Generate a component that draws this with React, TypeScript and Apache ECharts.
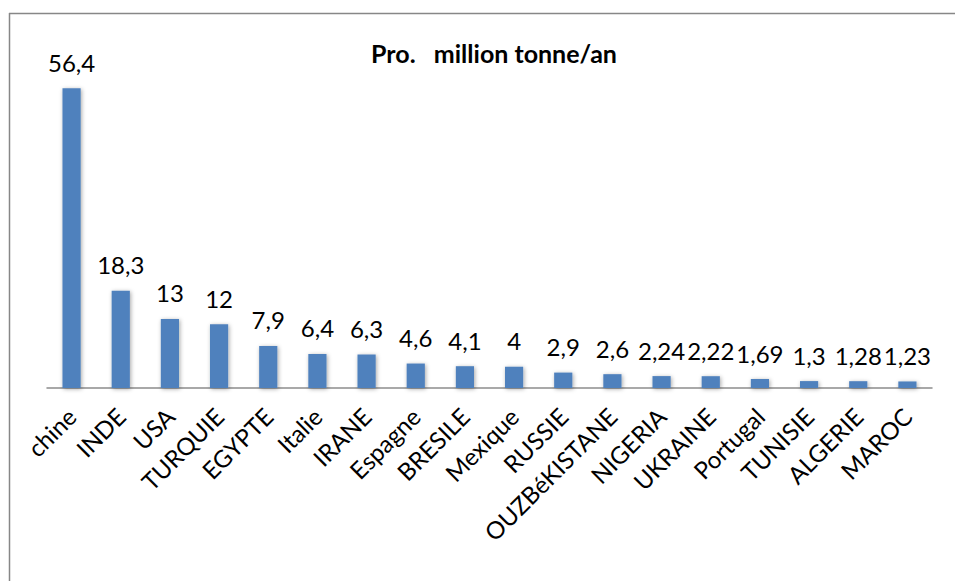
import React, { useEffect, useRef } from "react";
import * as echarts from "echarts";

const countries = [
  "chine", "INDE", "USA", "TURQUIE", "EGYPTE", "Italie", "IRANE", "Espagne", "BRESILE",
  "Mexique", "RUSSIE", "OUZBéKISTANE", "NIGERIA", "UKRAINE", "Portugal", "TUNISIE", "ALGERIE", "MAROC",
];
const production = [56.4, 18.3, 13, 12, 7.9, 6.4, 6.3, 4.6, 4.1, 4, 2.9, 2.6, 2.24, 2.22, 1.69, 1.3, 1.28, 1.23];
// non-breaking spaces keep the wide gap after "Pro." in SVG text
const chartTitle = "Pro.\u00a0\u00a0\u00a0million tonne/an";

const FONT = "Lato, 'Open Sans', sans-serif";

export default function App() {
  const ref = useRef<HTMLDivElement>(null);

  useEffect(() => {
    if (!ref.current) return;
    const chart = echarts.init(ref.current, null, { renderer: "svg" });
    chart.setOption({
      animation: false,
      backgroundColor: "#ffffff",
      title: {
        text: chartTitle,
        left: 489,
        top: 35,
        textAlign: "center",
        textStyle: { fontFamily: FONT, fontSize: 25, fontWeight: "bold", color: "#000" },
      },
      graphic: [
        { type: "line", shape: { x1: 9, y1: 13.5, x2: 955, y2: 13.5 }, style: { stroke: "#878787", lineWidth: 1.5 } },
        { type: "line", shape: { x1: 9.5, y1: 13, x2: 9.5, y2: 581 }, style: { stroke: "#878787", lineWidth: 1.5 } },
      ],
      grid: { left: 47, right: 23, top: 69, bottom: 193 },
      xAxis: {
        type: "category",
        data: countries,
        axisLine: { lineStyle: { color: "#8c8c8c", width: 1.5 } },
        axisTick: { show: false },
        axisLabel: {
          rotate: 45,
          interval: 0,
          margin: 24,
          color: "#000",
          fontFamily: FONT,
          fontSize: 24,
        },
      },
      yAxis: {
        type: "value",
        min: 0,
        max: 60,
        show: false,
        splitLine: { show: false },
      },
      series: [
        {
          type: "bar",
          data: production,
          barWidth: "37%",
          itemStyle: {
            color: "#4F81BD",
            shadowColor: "rgba(0,0,0,0.35)",
            shadowBlur: 4,
            shadowOffsetX: 1,
            shadowOffsetY: 1,
          },
          label: {
            show: true,
            position: "top",
            distance: 14,
            color: "#000",
            fontFamily: FONT,
            fontSize: 24,
            formatter: (p: any) => String(p.value).replace(".", ","),
          },
        },
      ],
    });
    return () => chart.dispose();
  }, []);

  return (
    <div
      ref={ref}
      style={{ position: "fixed", left: 0, top: 0, width: 955, height: 581 }}
    />
  );
}
